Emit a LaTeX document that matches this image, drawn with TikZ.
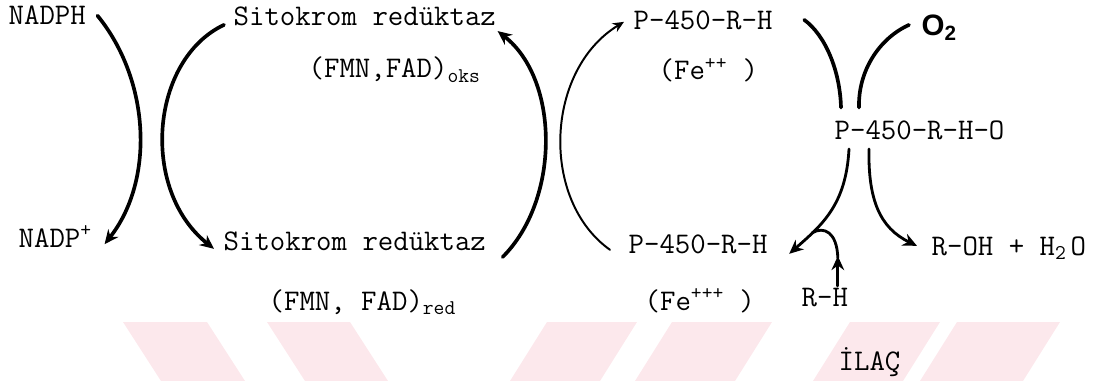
\documentclass[tikz,border=0pt]{standalone}
\usepackage{fontspec}
\newfontfamily\oxfont{Liberation Sans}
\usetikzlibrary{calc,arrows.meta}
\definecolor{wmark}{HTML}{FCE8EC}
\newcommand{\lblfont}{\ttfamily\fontsize{21.3}{24}\selectfont}
\tikzset{
  lbl/.style   ={font=\lblfont, inner sep=1pt, anchor=base west},
  heavy/.style ={line width=2.6pt, line cap=round},
  mid/.style   ={line width=2pt, line cap=round},
  light/.style ={line width=1.4pt, line cap=round},
  % hand drawn looking heads
  tip/.style   ={-{Stealth[length=10pt,width=9pt]}},
  smalltip/.style={-{Stealth[length=8pt,width=7pt]}},
}

\begin{document}
\begin{tikzpicture}[x=0.025cm, y=-0.025cm]
    \useasboundingbox (0,0) rectangle (1099,381);
    \foreach \l/\r/\s in {123/207/38, 267/350/38, 547/637/-37, 672/772/-37, 850/940/-37, 957/1060/-37}
      \fill[wmark] (\l,322) -- (\r,322) -- ({\r+\s},381) -- ({\l+\s},381) -- cycle;

    \node[lbl] (N)   at (7,25)    {NADPH};
    \node[lbl] (Np)  at (17,247)  {NADP\textsuperscript{+}};
    \node[lbl] (SO)  at (232,26)  {Sitokrom redüktaz};
    \node[lbl] (FO)  at (307,78)  {(FMN,FAD)\textsubscript{oks}};
    \node[lbl] (SR)  at (222,250) {Sitokrom redüktaz};
    \node[lbl] (FR)  at (267,310) {(FMN, FAD)\textsubscript{red}};
    \node[lbl] (PA)  at (632,30)  {P-450-R-H};
    \node[lbl] (FA)  at (657,80)  {(Fe\textsuperscript{++} )};
    \node[lbl] (PB)  at (627,253) {P-450-R-H};
    \node[lbl] (FB)  at (643,310) {(Fe\textsuperscript{+++} )};
    \node[lbl, font=\oxfont\bfseries\fontsize{21}{24}\selectfont] (O) at (920,36) {O\textsubscript{2}};
    \node[lbl] (PO)  at (833,139) {P-450-R-H-O};
    \node[lbl] (ROH) at (930,255) {R-OH + H\rlap{\textsubscript{2}} O};
    \node[lbl] (RH)  at (800,306) {R-H};
    \node[lbl] (I)   at (837,370) {İLAÇ};

    \draw[heavy, tip] ($(N.east)+(10,0)$) .. controls (150,80) and (155,180) .. ($(Np.east)+(11,8)$);
    \draw[heavy, tip] ($(SO.west)+(-8,8)$) .. controls (150,60) and (140,190) .. ($(SR.west)+(-8,8)$);
    \draw[heavy, tip] ($(SR.south east)+(15,5)$) .. controls (560,200) and (560,80) .. ($(SO.south east)+(0,3)$);
    \draw[light, smalltip] ($(PB.west)+(-17,6)$) .. controls (540,200) and (545,70) .. ($(PA.west)+(-8,1)$);
    \draw[heavy] ($(PA.east)+(30,-1)$) .. controls (825,35) and (840,70) .. ($(PO.north west)+(8,-11)$);
    \draw[heavy] ($(O.west)+(-11,-3)$) .. controls (880,38) and (858,70) .. ($(PO.north west)+(26,-11)$);
    \draw[mid, tip] ($(PO.south west)+(16,8)$) .. controls (846,205) and (822,225) .. ($(PB.east)+(20,10)$);
    \draw[mid, tip] ($(PO.south west)+(36,8)$) .. controls (868,200) and (880,228) .. ($(ROH.west)+(-13,-2)$);
    \draw[mid, tip] ($(RH.north)+(13,0)$) -- ($(RH.north)+(13,-30)$);
    \draw[mid] ($(RH.north)+(13,-28)$) .. controls (837,232) and (824,226) .. ($(PB.east)+(43,-11)$);
\end{tikzpicture}
\end{document}
